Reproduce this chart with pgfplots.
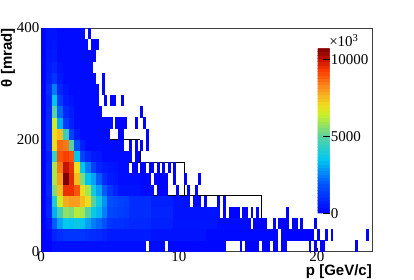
\documentclass[border=0pt]{standalone}
\usepackage{fontspec}
\setmainfont{Liberation Serif}
\newfontfamily\lab{Liberation Sans}[BoldFont={Liberation Sans Bold}]
\usepackage{pgfplots}
\usepackage{pgfplotstable}
\pgfplotsset{compat=1.18}
\pgfplotstableread[row sep=crcr]{
p t w m\\
0 10 .8 100\\ .8 10 6.8 350\\ 7.8 10 1.2 250\\ 9.2 10 4.2 150\\ 14.4 10 .2 50\\ 14.8 10 1 50\\ 16 10 .6 50\\ 16.8 10 .4 50\\ 17.4 10 .4 50\\ 19.4 10 .2 50\\ 19.8 10 .2 50\\ 20.2 10 .4 50\\ 22.8 10 .2 50\\
0 30 .4 100\\ .4 30 .4 200\\ .8 30 .4 800\\ 1.2 30 .4 1000\\ 1.6 30 .4 1200\\ 2 30 .4 1200\\ 2.4 30 .4 1200\\ 2.8 30 .4 1200\\ 3.2 30 .4 1100\\ 3.6 30 .4 1000\\ 4 30 .4 900\\ 4.4 30 .4 800\\ 4.8 30 3.2 600\\ 8 30 4 400\\ 12 30 5.2 200\\ 17.4 30 2.4 100\\ 20 30 .2 50\\ 20.6 30 .2 50\\ 21 30 .2 50\\ 23.6 30 .2 50\\
0 50 .4 100\\ .4 50 .4 400\\ .8 50 .4 2000\\ 1.2 50 .4 3000\\ 1.6 50 .4 3600\\ 2 50 .4 3500\\ 2.4 50 .4 3700\\ 2.8 50 .4 3500\\ 3.2 50 .4 3000\\ 3.6 50 .4 2500\\ 4 50 .4 2200\\ 4.4 50 .4 1800\\ 4.8 50 .4 1200\\ 5.2 50 .4 1100\\ 5.6 50 .4 1100\\ 6 50 .4 1000\\ 6.4 50 1.6 900\\ 8 50 1.6 700\\ 9.6 50 3.2 450\\ 12.8 50 2.4 250\\ 15.4 50 1 100\\ 16.8 50 .2 50\\ 17.2 50 .8 50\\ 18.2 50 .4 50\\ 18.8 50 .2 50\\ 19.8 50 .2 50\\
0 70 .4 100\\ .4 70 .4 800\\ .8 70 .4 3200\\ 1.2 70 .4 4700\\ 1.6 70 .4 5700\\ 2 70 .4 5500\\ 2.4 70 .4 6200\\ 2.8 70 .4 6000\\ 3.2 70 .4 5000\\ 3.6 70 .4 3700\\ 4 70 .4 3300\\ 4.4 70 .4 2500\\ 4.8 70 .4 1600\\ 5.2 70 .4 1500\\ 5.6 70 .4 1400\\ 6 70 .4 1300\\ 6.4 70 1.6 1000\\ 8 70 1.6 800\\ 9.6 70 3.4 400\\ 13.2 70 .2 100\\ 13.6 70 .8 100\\ 14.6 70 .4 100\\ 15.2 70 .2 100\\ 15.6 70 .2 100\\ 17.8 70 .2 50\\
0 90 .4 100\\ .4 90 .4 700\\ .8 90 .4 4000\\ 1.2 90 .4 6500\\ 1.6 90 .4 7800\\ 2 90 .4 8000\\ 2.4 90 .4 8000\\ 2.8 90 .4 7500\\ 3.2 90 .4 7000\\ 3.6 90 .4 5000\\ 4 90 .4 3800\\ 4.4 90 .4 2800\\ 4.8 90 .4 1800\\ 5.2 90 .4 1600\\ 5.6 90 .4 1500\\ 6 90 .4 1400\\ 6.4 90 1.6 1000\\ 8 90 1.6 700\\ 9.6 90 1.2 400\\ 11 90 .6 200\\ 11.8 90 .2 100\\ 12.8 90 .2 100\\ 13.2 90 .2 100\\
0 110 .4 100\\ .4 110 .4 900\\ .8 110 .4 5500\\ 1.2 110 .4 7500\\ 1.6 110 .4 9500\\ 2 110 .4 9500\\ 2.4 110 .4 9000\\ 2.8 110 .4 7000\\ 3.2 110 .4 6000\\ 3.6 110 .4 3800\\ 4 110 .4 3000\\ 4.4 110 .4 2000\\ 4.8 110 .4 1200\\ 5.2 110 .4 800\\ 5.6 110 1.6 400\\ 7.2 110 1 250\\ 8.4 110 .8 100\\ 9.8 110 .2 50\\ 10.6 110 .2 50\\ 11.2 110 .2 50\\
0 130 .4 100\\ .4 130 .4 800\\ .8 130 .4 6000\\ 1.2 130 .4 8000\\ 1.6 130 .4 10700\\ 2 130 .4 9600\\ 2.4 130 .4 7500\\ 2.8 130 .4 5500\\ 3.2 130 .4 3500\\ 3.6 130 .4 3000\\ 4 130 .4 2000\\ 4.4 130 .4 1000\\ 4.8 130 .4 600\\ 5.2 130 .4 500\\ 5.6 130 1.6 300\\ 7.2 130 .8 200\\ 8.2 130 1 100\\ 9.6 130 .2 50\\ 10.4 130 .2 50\\ 11.4 130 .2 50\\
0 150 .4 100\\ .4 150 .4 800\\ .8 150 .4 6000\\ 1.2 150 .4 8500\\ 1.6 150 .4 10000\\ 2 150 .4 9500\\ 2.4 150 .4 7000\\ 2.8 150 .4 3500\\ 3.2 150 .4 2500\\ 3.6 150 .4 1500\\ 4 150 .4 800\\ 4.4 150 .4 600\\ 4.8 150 .4 500\\ 5.2 150 .4 400\\ 5.6 150 .8 250\\ 6.6 150 .4 100\\ 7.2 150 .4 100\\ 7.8 150 .4 100\\ 8.4 150 .2 50\\ 8.8 150 .2 50\\ 9.2 150 .2 50\\ 9.6 150 .2 50\\
0 170 .4 100\\ .4 170 .4 700\\ .8 170 .4 4500\\ 1.2 170 .4 9000\\ 1.6 170 .4 9300\\ 2 170 .4 9000\\ 2.4 170 .4 3500\\ 2.8 170 .4 1500\\ 3.2 170 .4 900\\ 3.6 170 .4 600\\ 4 170 .4 500\\ 4.4 170 2.2 250\\ 6.8 170 .4 100\\
0 190 .4 100\\ .4 190 .4 1000\\ .8 190 .4 7000\\ 1.2 190 .4 8700\\ 1.6 190 .4 8500\\ 2 190 .4 5000\\ 2.4 190 .4 1800\\ 2.8 190 .4 700\\ 3.2 190 2.8 250\\ 6.4 190 .2 100\\ 6.8 190 .2 100\\ 7.2 190 .2 100\\ 7.6 190 .2 100\\
0 210 .4 100\\ .4 210 .4 1000\\ .8 210 .4 7000\\ 1.2 210 .4 7500\\ 1.6 210 .4 4500\\ 2 210 .4 1500\\ 2.4 210 .4 600\\ 2.8 210 2.2 250\\ 5.6 210 .4 100\\ 7.6 210 .2 100\\
0 230 .4 100\\ .4 230 .4 1000\\ .8 230 .4 6500\\ 1.2 230 .4 3200\\ 1.6 230 .4 1300\\ 2 230 .4 700\\ 2.4 230 2.8 250\\ 5.4 230 .8 100\\ 6.8 230 .2 100\\ 7.4 230 .2 100\\
0 250 .4 100\\ .4 250 .4 900\\ .8 250 .4 5000\\ 1.2 250 .4 2200\\ 1.6 250 .4 900\\ 2 250 .4 600\\ 2.4 250 2 250\\ 7.2 250 .2 100\\
0 270 .4 100\\ .4 270 .4 800\\ .8 270 .4 3500\\ 1.2 270 .4 1300\\ 1.6 270 .4 600\\ 2 270 .4 400\\ 2.4 270 1.8 250\\ 4.6 270 .2 100\\ 5 270 .4 100\\ 5.8 270 .2 100\\
0 290 .4 100\\ .4 290 .4 1000\\ .8 290 .4 2500\\ 1.2 290 .4 800\\ 1.6 290 .4 400\\ 2 290 2.2 250\\ 4.4 290 .2 100\\
0 310 .4 100\\ .4 310 .4 700\\ .8 310 .4 1200\\ 1.2 310 .4 500\\ 1.6 310 2.4 250\\ 4.4 310 .2 100\\
0 330 .4 100\\ .4 330 .4 600\\ .8 330 .4 800\\ 1.2 330 .4 400\\ 1.6 330 2.2 250\\
0 350 .4 100\\ .4 350 .4 500\\ .8 350 .4 600\\ 1.2 350 2.8 250\\
0 370 .4 100\\ .4 370 .4 400\\ .8 370 .4 500\\ 1.2 370 2.2 250\\ 3.6 370 .6 100\\
0 390 .4 100\\ .4 390 .4 400\\ .8 390 .4 400\\ 1.2 390 2 250\\ 3.4 390 .2 100\\
}\cells
\pgfdeclareplotmark{cell}{%
  \pgfmathsetlengthmacro\cwd{\cw*13.79+0.12}%
  \pgfpathrectangle{\pgfpoint{-0.06pt}{-5.66pt}}{\pgfpoint{\cwd}{11.32pt}}%
  \pgfusepathqfill}
\begin{document}
\begin{tikzpicture}[x=1pt,y=1pt]
\path[use as bounding box] (0,0) rectangle (414,280);
\begin{axis}[
  at={(41pt,28.3pt)}, anchor=south west, scale only axis,
  width=331pt, height=223.7pt,
  xmin=0, xmax=24, ymin=0, ymax=400,
  font=\fontsize{15}{15}\selectfont,
  axis line style={black!75,line width=.8pt},
  tick align=inside, xtick pos=bottom, ytick pos=left,
  major tick length=4pt, tick style={black,line width=.5pt},
  xtick={0,5,10,15,20}, xticklabels={0,,10,,20},
  ytick={0,100,200,300,400}, yticklabels={0,,200,,400},
  xticklabel style={inner sep=1pt,yshift=1pt},
  yticklabel style={inner sep=1.5pt},
  xlabel={\lab\bfseries p [GeV/c]},
  xlabel style={at={(axis description cs:1,-0.058)},anchor=north east,inner sep=0pt},
  ylabel={\lab\bfseries θ [mrad]},
  ylabel style={at={(axis description cs:-0.1,1)},anchor=east,inner sep=0pt},
  colormap={roc}{rgb255(0)=(0,0,255) rgb255(18)=(0,85,255) rgb255(33)=(0,200,240) rgb255(47)=(90,210,160) rgb255(60)=(200,240,40) rgb255(66)=(240,220,30) rgb255(77)=(250,140,30) rgb255(87)=(250,60,0) rgb255(93)=(200,20,0) rgb255(100)=(125,0,0)},
  point meta min=0, point meta max=10714,
  colorbar sampled, colorbar style={samples=51},
  colorbar style={
    at={(rel axis cs:0.9336,0.2981)}, anchor=south west,
    width=12pt, height=165pt,
    axis line style={draw=none},
    ytick={0,5000,10000}, yticklabels={0,5000,10000},
    scaled y ticks=false,
    ytick pos=right, tick align=inside, major tick length=7pt,
    tick style={black,line width=.5pt},
    yticklabel style={inner sep=1pt},
    font=\fontsize{15}{15}\selectfont,
  },
]
\addplot[scatter, only marks, mark=cell, draw=none,
  scatter/use mapped color={fill=mapped color, draw=none},
  visualization depends on={\thisrow{w} \as \cw},
  point meta=explicit] table[x=p, y=t, meta=m] {\cells};
\addplot[black, line width=.7pt, no marks, unbounded coords=jump] table[row sep=crcr] {
x y\\
.8 280\\ 2.4 280\\ nan nan\\
2.4 240\\ 4 240\\ nan nan\\
4 200\\ 7.2 200\\ nan nan\\
.8 160\\ 10.4 160\\ nan nan\\
.8 100\\ 16 100\\ nan nan\\
2.4 40\\ 16 40\\ nan nan\\
.8 20\\ 2.4 20\\ nan nan\\
.8 20\\ .8 280\\ nan nan\\
1.6 20\\ 1.6 280\\ nan nan\\
2.4 20\\ 2.4 280\\ nan nan\\
3.2 40\\ 3.2 160\\ nan nan\\
4 40\\ 4 240\\ nan nan\\
4.8 40\\ 4.8 100\\ nan nan\\
5.6 100\\ 5.6 160\\ nan nan\\
6.4 40\\ 6.4 100\\ nan nan\\
7.2 100\\ 7.2 200\\ nan nan\\
8 40\\ 8 100\\ nan nan\\
9.6 40\\ 9.6 100\\ nan nan\\
10.4 100\\ 10.4 160\\ nan nan\\
12.8 40\\ 12.8 100\\ nan nan\\
16 40\\ 16 100\\
};
\node at (rel axis cs:.915,.945) {×10\textsuperscript{3}};
\end{axis}
\end{tikzpicture}
\end{document}
